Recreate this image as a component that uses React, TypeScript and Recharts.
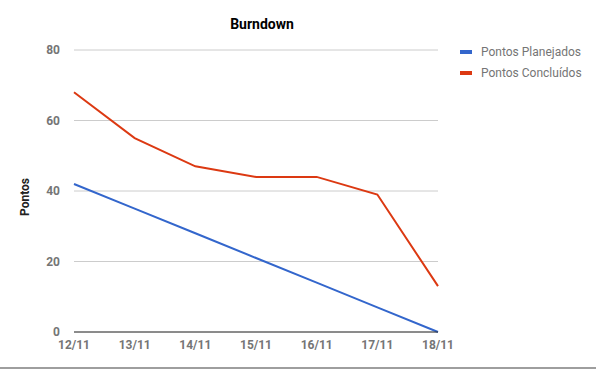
import { LineChart, Line, XAxis, YAxis, CartesianGrid } from 'recharts';

const days = ['12/11', '13/11', '14/11', '15/11', '16/11', '17/11', '18/11'];
const planned = [42, 35, 28, 21, 14, 7, 0];
const done = [68, 55, 47, 44, 44, 39, 13];
const yTicks = [0, 20, 40, 60, 80];

const data = days.map((d, i) => ({ day: d, planned: planned[i], done: done[i] }));

const font = 'Roboto, Arial, sans-serif';

const legendItems = [
    { label: 'Pontos Planejados', color: '#3366cc' },
    { label: 'Pontos Concluídos', color: '#dc3912' },
];

function LegendBox() {
    return (
        <div style={{ position: 'absolute', left: 460, top: 41, fontFamily: font, fontSize: 12, color: '#757575' }}>
            {legendItems.map(it => (
                <div key={it.label} style={{ display: 'flex', alignItems: 'center', height: 21 }}>
                    <span style={{ display: 'inline-block', width: 12, height: 4, background: it.color, marginRight: 9 }} />
                    <span>{it.label}</span>
                </div>
            ))}
        </div>
    );
}

export default function App() {
    return (
        <div style={{ position: 'absolute', left: 0, top: 0, width: 596, height: 370, background: '#fff', fontFamily: font }}>
            <div style={{ position: 'absolute', left: 0, top: 0, width: 596, height: 367, borderBottom: '2px solid #9e9e9e' }} />
            <div style={{ position: 'absolute', top: 16, left: 162, width: 200, textAlign: 'center', fontSize: 14, fontWeight: 'bold', color: '#000' }}>
                Burndown
            </div>
            <div style={{ position: 'absolute', left: 25, top: 197, transform: 'translate(-50%, -50%) rotate(-90deg)', fontSize: 12, fontWeight: 'bold', color: '#222' }}>
                Pontos
            </div>
            <div style={{ position: 'absolute', left: 0, top: 0 }}>
                <LineChart width={596} height={368} data={data} margin={{ top: 50, right: 158, left: 44, bottom: 6 }}>
                    <CartesianGrid horizontal vertical={false} stroke="#cccccc" />
                    <XAxis dataKey="day" height={30} axisLine={{ stroke: '#333' }} tickLine={false} tickMargin={2}
                        tick={{ fill: '#757575', fontSize: 12, fontWeight: 'bold', fontFamily: font }} interval={0} />
                    <YAxis width={30} domain={[0, 80]} ticks={yTicks} axisLine={false} tickLine={false} tickSize={0} tickMargin={14}
                        tick={{ fill: '#757575', fontSize: 12, fontWeight: 'bold', fontFamily: font }} />
                    <Line dataKey="planned" name="Pontos Planejados" stroke="#3366cc" strokeWidth={2} dot={false} isAnimationActive={false} />
                    <Line dataKey="done" name="Pontos Concluídos" stroke="#dc3912" strokeWidth={2} dot={false} isAnimationActive={false} />
                </LineChart>
            </div>
            <LegendBox />
        </div>
    );
}
